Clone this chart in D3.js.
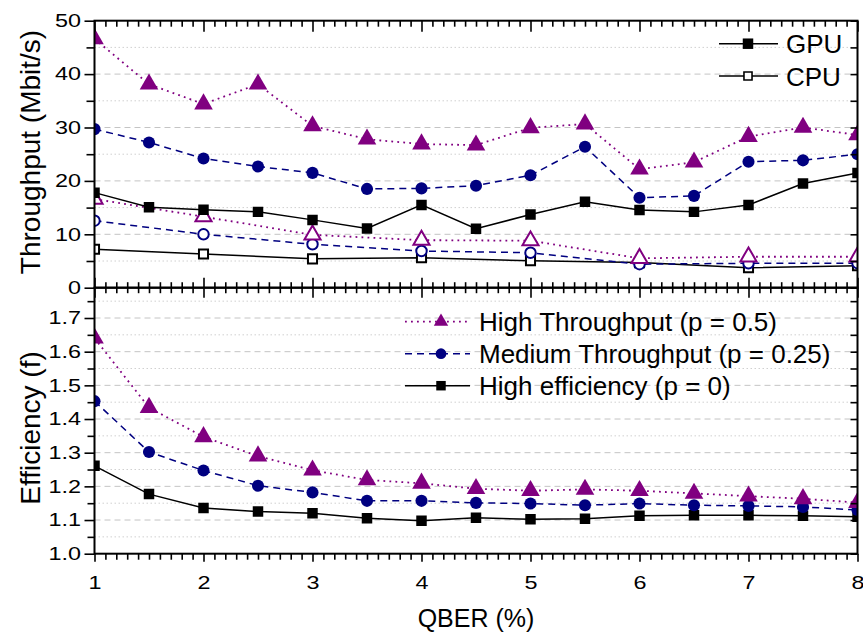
<!DOCTYPE html>
<html>
<head>
<meta charset="utf-8">
<script src="https://cdn.jsdelivr.net/npm/d3@7"></script>
<style>
  body { margin: 0; background: #fff; }
  svg { font-family: "Liberation Sans", Arial, sans-serif; }
</style>
</head>
<body>
<svg id="chart" width="863" height="633"></svg>
<script>
// QBER values (x axis)
const qber = [1, 1.5, 2, 2.5, 3, 3.5, 4, 4.5, 5, 5.5, 6, 6.5, 7, 7.5, 8];
const qberCpu = [1, 2, 3, 4, 5, 6, 7, 8];

// throughput, GPU (filled markers), Mbit/s
const gpuHighTp  = [46.6, 38.1, 34.4, 38.1, 30.3, 27.8, 26.9, 26.7, 29.95, 30.65, 22.2, 23.5, 28.3, 30.0, 28.6];
const gpuMedium  = [29.7, 27.2, 24.2, 22.7, 21.5, 18.5, 18.6, 19.1, 21.05, 26.4, 16.85, 17.2, 23.6, 23.85, 25.0];
const gpuHighEff = [17.8, 15.05, 14.6, 14.2, 12.7, 11.1, 15.5, 11.05, 13.7, 16.1, 14.55, 14.2, 15.5, 19.5, 21.5];

// throughput, CPU (open markers), Mbit/s
const cpuHighTp  = [16.6, 13.3, 9.9, 8.9, 8.8, 5.5, 5.8, 5.8];
const cpuMedium  = [12.55, 10.0, 8.13, 6.87, 6.55, 4.4, 4.57, 4.6];
const cpuHighEff = [7.2, 6.3, 5.4, 5.6, 5.05, 4.7, 3.75, 4.1];

// efficiency f
const effHighTp  = [1.64, 1.434, 1.347, 1.29, 1.248, 1.219, 1.209, 1.193, 1.187, 1.191, 1.187, 1.179, 1.171, 1.163, 1.152];
const effMedium  = [1.453, 1.302, 1.247, 1.202, 1.182, 1.157, 1.157, 1.151, 1.149, 1.144, 1.149, 1.144, 1.142, 1.139, 1.13];
const effHighEff = [1.261, 1.177, 1.136, 1.125, 1.12, 1.105, 1.098, 1.107, 1.102, 1.104, 1.113, 1.114, 1.114, 1.113, 1.11];

const tpTicks = [0, 10, 20, 30, 40, 50];
const tpMinor = [5, 15, 25, 35, 45];
const effTicks = [1.0, 1.1, 1.2, 1.3, 1.4, 1.5, 1.6, 1.7];
const effMinor = [1.05, 1.15, 1.25, 1.35, 1.45, 1.55, 1.65, 1.75];
const xTicks = [1, 2, 3, 4, 5, 6, 7, 8];

const legendTop = ['GPU', 'CPU'];
const legendBottom = ['High Throughput (p = 0.5)', 'Medium Throughput (p = 0.25)', 'High efficiency (p = 0)'];

const PURPLE = '#800080', NAVY = '#000080';
const styles = {
  hiTp:  {color: PURPLE, dash: '1.8,4.2', width: 1.8, shape: d3.symbolTriangle, size: 150},
  med:   {color: NAVY,   dash: '7,5',     width: 1.5, shape: d3.symbolCircle, size: 115},
  hiEff: {color: '#000', dash: null,      width: 1.5, shape: d3.symbolSquare, size: 110}
};

const svg = d3.select('#chart');
const labelScale = 1.3; // tick labels in the original are drawn wide

const x = d3.scaleLinear().domain([1, 8]).range([94.5, 857.5]);
const yTp = d3.scaleLinear().domain([0, 50]).range([287.7, 20.7]);
const yEff = d3.scaleLinear().domain([1.0, 1.79]).range([553.7, 287.7]);

const xMinor = d3.range(1, 8.001, 0.1).map(v => +v.toFixed(1)).filter(v => !Number.isInteger(v));

// clip paths for each panel
const defs = svg.append('defs');
defs.append('clipPath').attr('id', 'clipTop').append('rect')
  .attr('x', x(1)).attr('y', yTp(50)).attr('width', x(8) - x(1)).attr('height', yTp(0) - yTp(50));
defs.append('clipPath').attr('id', 'clipBot').append('rect')
  .attr('x', x(1)).attr('y', yEff(1.79)).attr('width', x(8) - x(1)).attr('height', yEff(1.0) - yEff(1.79));

// grid lines
function grid(y, majors, minors) {
  const g = svg.append('g');
  g.selectAll('.maj').data(majors).enter().append('line')
    .attr('x1', x(1)).attr('x2', x(8)).attr('y1', d => y(d)).attr('y2', d => y(d))
    .attr('stroke', '#c4c4c4').attr('stroke-width', 1).attr('stroke-dasharray', '6,4');
  g.selectAll('.min').data(minors).enter().append('line')
    .attr('x1', x(1)).attr('x2', x(8)).attr('y1', d => y(d)).attr('y2', d => y(d))
    .attr('stroke', '#d0d0d0').attr('stroke-width', 1).attr('stroke-dasharray', '1.5,2.5');
}
grid(yTp, tpTicks.slice(1, -1), tpMinor);
grid(yEff, effTicks.slice(1), effMinor);

// series drawing
function series(parent, xs, ys, y, st, open) {
  const pts = xs.map((v, i) => [v, ys[i]]);
  const line = d3.line().x(d => x(d[0])).y(d => y(d[1]));
  parent.append('path').attr('d', line(pts))
    .attr('fill', 'none').attr('stroke', st.color).attr('stroke-width', st.width)
    .attr('stroke-dasharray', st.dash);
  parent.selectAll(null).data(pts).enter().append('path')
    .attr('d', d3.symbol().type(st.shape).size(open ? st.size * 0.75 : st.size))
    .attr('transform', d => `translate(${x(d[0])},${y(d[1])})`)
    .attr('fill', open ? '#fff' : st.color)
    .attr('stroke', st.color).attr('stroke-width', open ? 2 : 0);
}

const topG = svg.append('g').attr('clip-path', 'url(#clipTop)');
series(topG, qberCpu, cpuHighEff, yTp, styles.hiEff, true);
series(topG, qberCpu, cpuMedium, yTp, styles.med, true);
series(topG, qberCpu, cpuHighTp, yTp, styles.hiTp, true);
series(topG, qber, gpuHighEff, yTp, styles.hiEff, false);
series(topG, qber, gpuMedium, yTp, styles.med, false);
series(topG, qber, gpuHighTp, yTp, styles.hiTp, false);

const botG = svg.append('g').attr('clip-path', 'url(#clipBot)');
series(botG, qber, effHighEff, yEff, styles.hiEff, false);
series(botG, qber, effMedium, yEff, styles.med, false);
series(botG, qber, effHighTp, yEff, styles.hiTp, false);

// axes
function axis(gen, tx, ty) {
  const g = svg.append('g').attr('transform', `translate(${tx},${ty})`).call(gen);
  g.select('.domain').remove();
  g.selectAll('line').attr('stroke', '#000').attr('stroke-width', 1.6);
  g.selectAll('text').attr('font-size', 18).attr('fill', '#000')
    .attr('font-family', '"Liberation Sans", Arial, sans-serif');
  return g;
}
const none = () => '';

// top panel
axis(d3.axisLeft(yTp).tickValues(tpTicks).tickSize(10).tickFormat(d3.format('d')), x(1), 0)
  .selectAll('text').attr('x', -13.5 / labelScale).attr('transform', `scale(${labelScale},1)`);
axis(d3.axisLeft(yTp).tickValues(tpMinor).tickSize(8).tickFormat(none), x(1), 0);
axis(d3.axisRight(yTp).tickValues(tpTicks.concat(tpMinor)).tickSize(-7).tickFormat(none), x(8), 0);
axis(d3.axisTop(x).tickValues(xTicks).tickSize(-11).tickFormat(none), 0, yTp(50));
axis(d3.axisTop(x).tickValues(xMinor).tickSize(-6).tickFormat(none), 0, yTp(50));

// shared middle axis, ticks crossing
axis(d3.axisBottom(x).tickValues(xTicks).tickSize(10).tickFormat(none), 0, yTp(0));
axis(d3.axisBottom(x).tickValues(xTicks).tickSize(-10).tickFormat(none), 0, yTp(0));
axis(d3.axisBottom(x).tickValues(xMinor).tickSize(5.5).tickFormat(none), 0, yTp(0));
axis(d3.axisBottom(x).tickValues(xMinor).tickSize(-5.5).tickFormat(none), 0, yTp(0));

// bottom panel
axis(d3.axisLeft(yEff).tickValues(effTicks).tickSize(10).tickFormat(d3.format('.1f')), x(1), 0)
  .selectAll('text').attr('x', -13.5 / labelScale).attr('transform', `scale(${labelScale},1)`);
axis(d3.axisLeft(yEff).tickValues(effMinor).tickSize(7).tickFormat(none), x(1), 0);
axis(d3.axisRight(yEff).tickValues(effTicks.concat(effMinor)).tickSize(-7).tickFormat(none), x(8), 0);
axis(d3.axisBottom(x).tickValues(xTicks).tickSize(8).tickFormat(d3.format('d')), 0, yEff(1.0))
  .selectAll('text').attr('y', 35).attr('dy', 0).attr('transform', `scale(${labelScale},1)`)
  .attr('x', 0);
axis(d3.axisBottom(x).tickValues(xMinor).tickSize(6).tickFormat(none), 0, yEff(1.0));

// frames
svg.append('rect').attr('x', x(1)).attr('y', yTp(50))
  .attr('width', x(8) - x(1)).attr('height', yTp(0) - yTp(50))
  .attr('fill', 'none').attr('stroke', '#000').attr('stroke-width', 2);
svg.append('rect').attr('x', x(1)).attr('y', yEff(1.79))
  .attr('width', x(8) - x(1)).attr('height', yEff(1.0) - yEff(1.79))
  .attr('fill', 'none').attr('stroke', '#000').attr('stroke-width', 2);

// axis titles
svg.append('text').attr('transform', 'translate(40,152) rotate(-90)')
  .attr('text-anchor', 'middle').attr('font-size', 28).text('Throughput (Mbit/s)');
svg.append('text').attr('transform', 'translate(40,428) rotate(-90)')
  .attr('text-anchor', 'middle').attr('font-size', 28).text('Efficiency (f)');
svg.append('text').attr('x', 476).attr('y', 627)
  .attr('text-anchor', 'middle').attr('font-size', 25).text('QBER (%)');

// legends
function legendRow(cy, x1, x2, mx, tx, st, open, label, msize) {
  const g = svg.append('g');
  g.append('line').attr('x1', x1).attr('x2', x2).attr('y1', cy).attr('y2', cy)
    .attr('stroke', st.color).attr('stroke-width', st.width).attr('stroke-dasharray', st.dash);
  g.append('path').attr('d', d3.symbol().type(st.shape).size(msize))
    .attr('transform', `translate(${mx},${cy})`)
    .attr('fill', open ? '#fff' : st.color).attr('stroke', st.color).attr('stroke-width', open ? 1.6 : 0);
  g.append('text').attr('x', tx).attr('y', cy + 9.5).attr('font-size', 26).text(label);
}
legendRow(43.7, 719, 778, 748, 786, styles.hiEff, false, legendTop[0], 110);
legendRow(76, 719, 778, 748, 786, styles.hiEff, true, legendTop[1], 65);

const botStyles = [styles.hiTp, styles.med, styles.hiEff];
legendBottom.forEach((lab, i) => {
  legendRow(321.7 + i * 32, 405, 470, 441, 479, botStyles[i], false, lab, 90);
});
</script>
</body>
</html>
